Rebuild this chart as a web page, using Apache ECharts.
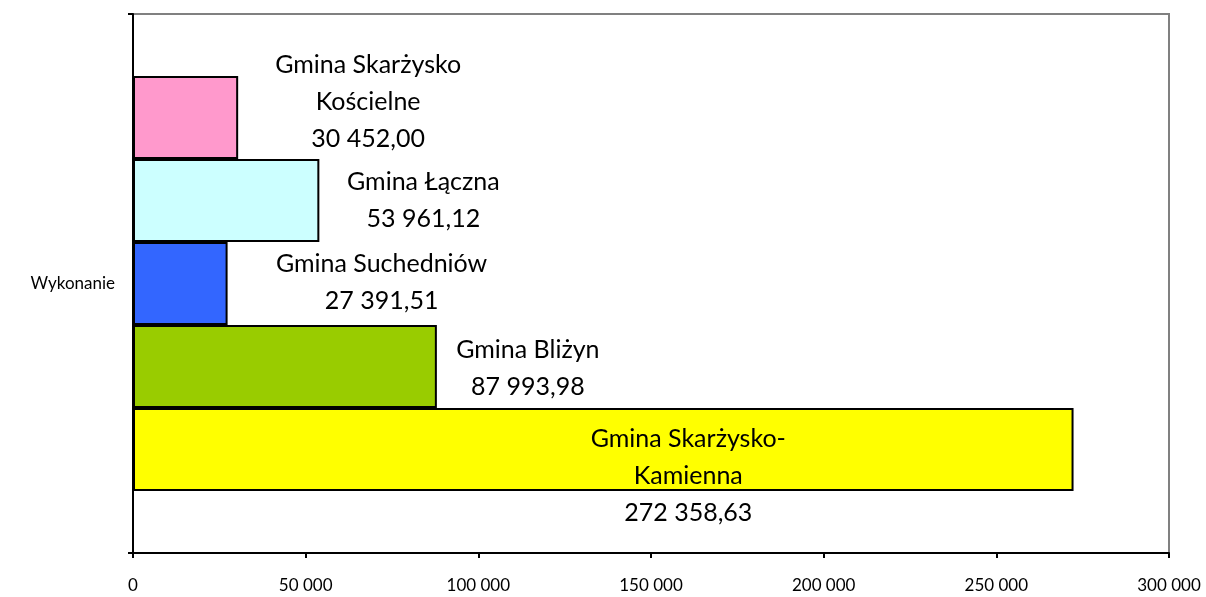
<!DOCTYPE html>
<html>
<head>
<meta charset="utf-8">
<title>Wykonanie</title>
<script src="https://cdn.jsdelivr.net/npm/echarts@6/dist/echarts.min.js"></script>
<style>
  html, body { margin: 0; padding: 0; background: #fff; }
  #chart { width: 1206px; height: 597px; }
</style>
</head>
<body>
<div id="chart"></div>
<script>
var categories = ["Wykonanie"];
// top to bottom, as drawn
var gminy = [
  "Gmina Skarżysko\nKościelne",
  "Gmina Łączna",
  "Gmina Suchedniów",
  "Gmina Bliżyn",
  "Gmina Skarżysko-\nKamienna"
];
var values = [30452.0, 53961.12, 27391.51, 87993.98, 272358.63];
var colors = ["#FF99CC", "#CCFFFF", "#3366FF", "#99CC00", "#FFFF00"];
var xTicks = { min: 0, max: 300000, step: 50000 };

function fmtInt(v) {
  return String(Math.round(v)).replace(/\B(?=(\d{3})+(?!\d))/g, " ");
}
function fmtVal(v) {
  var parts = v.toFixed(2).split(".");
  return parts[0].replace(/\B(?=(\d{3})+(?!\d))/g, " ") + "," + parts[1];
}

// label placement per bar (Excel put them by hand)
var labelPos = [
  { position: "right", offset: [130, -16] },
  { position: "right", offset: [104, 0] },
  { position: "right", offset: [154, -1] },
  { position: "right", offset: [91, 2] },
  { position: "inside", offset: [85, 26] }
];

var FONT = "Lato, 'Noto Sans', sans-serif";

var series = gminy.map(function (name, i) {
  var lp = labelPos[i];
  return {
    name: name,
    type: "bar",
    barWidth: 83,
    barGap: "0%",
    data: [values[i]],
    itemStyle: {
      color: colors[i],
      borderColor: "#000",
      borderWidth: 2
    },
    label: {
      show: true,
      position: lp.position,
      align: "center",
      verticalAlign: "middle",
      distance: 0,
      offset: lp.offset,
      color: "#000",
      fontFamily: FONT,
      fontSize: 25,
      lineHeight: 37,
      formatter: function () {
        return name + "\n" + fmtVal(values[i]);
      }
    }
  };
});

var chart = echarts.init(document.getElementById("chart"), null, { renderer: "canvas" });
chart.setOption({
  animation: false,
  backgroundColor: "#fff",
  grid: {
    left: 133,
    right: 37,
    top: 14,
    bottom: 44,
    show: true,
    borderColor: "#808080",
    borderWidth: 2,
    backgroundColor: "transparent"
  },
  xAxis: {
    type: "value",
    min: xTicks.min,
    max: xTicks.max,
    interval: xTicks.step,
    splitLine: { show: false },
    axisLine: { show: true, lineStyle: { color: "#000", width: 2 } },
    axisTick: { show: true, length: 5, lineStyle: { color: "#000", width: 2 } },
    axisLabel: {
      color: "#000",
      fontFamily: FONT,
      fontSize: 17,
      margin: 24,
      formatter: fmtInt
    }
  },
  yAxis: {
    type: "category",
    data: categories,
    boundaryGap: true,
    axisLine: { show: true, lineStyle: { color: "#000", width: 2 } },
    axisTick: { show: true, length: 5, lineStyle: { color: "#000", width: 2 } },
    axisLabel: {
      color: "#000",
      fontFamily: FONT,
      fontSize: 17,
      margin: 18
    }
  },
  series: series
});
</script>
</body>
</html>
